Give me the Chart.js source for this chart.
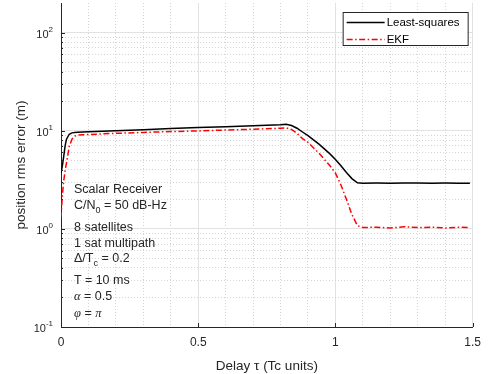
<!DOCTYPE html>
<html>
<head>
<meta charset="utf-8">
<script src="https://cdn.jsdelivr.net/npm/chart.js@4.4.1/dist/chart.umd.min.js"></script>
<style>
  html, body { margin: 0; padding: 0; background: #fff; }
  #wrap { position: relative; width: 489px; height: 374px; }
  #notes { position: absolute; left: 74px; top: 0; font: 12.5px "Liberation Sans", Arial, sans-serif; color: #262626; }
  #notes div { position: absolute; left: 0; white-space: nowrap; line-height: 14px; }
  #notes sub { font-size: 9px; vertical-align: -4px; line-height: 0; }
  .gk { font-family: "Liberation Serif", serif; font-style: italic; }
</style>
</head>
<body>
<div id="wrap">
  <canvas id="myChart" width="489" height="374"></canvas>
  <div id="notes">
    <div style="top:182px">Scalar Receiver</div>
    <div style="top:198px">C/N<sub>0</sub> = 50 dB-Hz</div>
    <div style="top:220px">8 satellites</div>
    <div style="top:236px">1 sat multipath</div>
    <div style="top:251px">&Delta;/T<sub>c</sub> = 0.2</div>
    <div style="top:273px">T = 10 ms</div>
    <div style="top:289px"><span class="gk">&alpha;</span> = 0.5</div>
    <div style="top:306px"><span class="gk">&phi;</span> = <span class="gk">&pi;</span></div>
  </div>
</div>
<script>
// delay in chip units, rms error in metres
var delay = [0, 0.005, 0.01, 0.015, 0.02, 0.03, 0.04, 0.05, 0.06, 0.08, 0.1,
             0.2, 0.3, 0.4, 0.5, 0.6, 0.7, 0.8, 0.82, 0.84, 0.86, 0.88, 0.9, 0.94, 0.98,
             1.0, 1.02, 1.04, 1.06, 1.08, 1.1, 1.15, 1.2, 1.25, 1.3, 1.35, 1.4, 1.45, 1.49];
var leastSquares = [3.7, 4.4, 5.5, 7.0, 8.2, 9.2, 9.5, 9.6, 9.65, 9.7, 9.75,
                    10.0, 10.25, 10.5, 10.75, 11.0, 11.2, 11.5, 11.6, 11.3, 10.6, 9.7, 8.9, 7.3, 5.8,
                    5.1, 4.4, 3.75, 3.25, 2.95, 2.92, 2.93, 2.92, 2.94, 2.93, 2.92, 2.93, 2.92, 2.92];
var ekf = [1.3, 2.2, 3.1, 3.9, 4.7, 6.9, 8.2, 8.8, 9.0, 9.1, 9.15,
           9.4, 9.6, 9.8, 9.95, 10.15, 10.35, 10.6, 10.7, 10.3, 9.4, 8.3, 7.6, 5.9, 4.4,
           3.7, 2.8, 2.0, 1.4, 1.08, 1.03, 1.04, 1.02, 1.05, 1.03, 1.04, 1.02, 1.04, 1.03];
var xTickLabels = ['0', '0.5', '1', '1.5'];
var yDecades = [-1, 0, 1, 2];

var FONT = '"Liberation Sans", Arial, sans-serif';
var TXT = '#262626';
Chart.defaults.font.family = FONT;
Chart.defaults.color = TXT;

function gridDash(c) {
    return (c.tick && !c.tick.major) ? [1, 2] : [];
}
function gridColor(c) {
    return (c.tick && !c.tick.major) ? '#d4d4d4' : '#e2e2e2';
}

// MATLAB-ish extras: inward ticks, 10^n labels, boxed legend
var extras = {
    id: 'extras',
    afterDraw: function(chart) {
        var ctx = chart.ctx, a = chart.chartArea, x = chart.scales.x, y = chart.scales.y;
        ctx.save();
        ctx.strokeStyle = TXT;
        ctx.lineWidth = 1;
        y.ticks.forEach(function(t) {
            var py = Math.round(y.getPixelForValue(t.value)) + 0.5;
            ctx.beginPath();
            ctx.moveTo(a.left, py);
            ctx.lineTo(a.left + (t.major ? 4 : 2), py);
            ctx.stroke();
        });
        x.ticks.forEach(function(t) {
            if (!t.major) return;
            var px = Math.round(x.getPixelForValue(t.value)) + 0.5;
            ctx.beginPath();
            ctx.moveTo(px, a.bottom);
            ctx.lineTo(px, a.bottom - 4);
            ctx.stroke();
        });

        ctx.fillStyle = TXT;
        ctx.textBaseline = 'middle';
        yDecades.forEach(function(n) {
            var py = y.getPixelForValue(Math.pow(10, n));
            var exp = String(n);
            var right = a.left - 8;
            ctx.font = '8px ' + FONT;
            var ew = ctx.measureText(exp).width;
            ctx.textAlign = 'left';
            ctx.fillText(exp, right - ew, py - 3);
            ctx.font = '11px ' + FONT;
            ctx.textAlign = 'right';
            ctx.fillText('10', right - ew, py + 2);
        });

        // legend box
        var bx = a.right - 130, by = a.top + 9, bw = 125, bh = 33;
        ctx.fillStyle = '#fff';
        ctx.fillRect(bx, by, bw, bh);
        ctx.strokeStyle = TXT;
        ctx.strokeRect(bx + 0.5, by + 0.5, bw, bh);
        chart.data.datasets.forEach(function(ds, i) {
            var ly = Math.round(by + 10 + i * 16.5) + 0.5;
            ctx.save();
            ctx.strokeStyle = ds.borderColor;
            ctx.lineWidth = ds.borderWidth;
            ctx.setLineDash(ds.borderDash || []);
            ctx.beginPath();
            ctx.moveTo(bx + 4, ly);
            ctx.lineTo(bx + 42, ly);
            ctx.stroke();
            ctx.restore();
            ctx.fillStyle = '#000';
            ctx.font = '11.5px ' + FONT;
            ctx.textAlign = 'left';
            ctx.fillText(ds.label, bx + 44, ly);
        });
        ctx.restore();
    }
};

var ctx = document.getElementById('myChart').getContext('2d');
var myChart = new Chart(ctx, {
    type: 'line',
    data: {
        datasets: [{
            label: 'Least-squares',
            borderColor: '#000000',
            borderWidth: 1.5,
            data: delay.map(function(d, i) { return {x: d, y: leastSquares[i]}; })
        }, {
            label: 'EKF',
            borderColor: '#ff0000',
            borderWidth: 1.5,
            borderDash: [6, 2.5, 1.5, 2.5],
            data: delay.map(function(d, i) { return {x: d, y: ekf[i]}; })
        }]
    },
    options: {
        responsive: false,
        devicePixelRatio: 1,
        animation: false,
        layout: { padding: { left: 0, top: 3, right: 16, bottom: 0 } },
        plugins: {
            legend: { display: false },
            tooltip: { enabled: false }
        },
        elements: {
            line: { tension: 0 },
            point: { radius: 0 }
        },
        scales: {
            x: {
                type: 'linear',
                min: 0,
                max: 1.5,
                afterBuildTicks: function(s) {
                    var t = [];
                    for (var i = 0; i <= 15; i++) t.push({value: i / 10, major: i % 5 === 0});
                    s.ticks = t;
                },
                afterFit: function(s) { s.height = 47; },
                ticks: {
                    autoSkip: false,
                    maxRotation: 0,
                    padding: 8,
                    font: { size: 12 },
                    color: TXT,
                    callback: function(v, i) { return i % 5 === 0 ? xTickLabels[i / 5] : ''; }
                },
                grid: { color: gridColor, lineWidth: 1, drawTicks: false },
                border: { color: TXT, width: 1, dash: gridDash },
                title: {
                    display: true,
                    text: 'Delay τ (Tc units)',
                    font: { size: 13.5 },
                    color: TXT,
                    padding: { top: 0, bottom: 0 }
                }
            },
            y: {
                type: 'logarithmic',
                min: 0.1,
                max: 200,
                afterBuildTicks: function(s) {
                    var t = [];
                    yDecades.forEach(function(n) {
                        for (var m = 1; m <= 9; m++) {
                            var v = m * Math.pow(10, n);
                            if (v <= 100.0001) t.push({value: v, major: m === 1});
                        }
                    });
                    s.ticks = t;
                },
                afterFit: function(s) { s.width = 61; },
                ticks: { display: false },
                grid: { color: gridColor, lineWidth: 1, drawTicks: false },
                border: { color: TXT, width: 1, dash: gridDash },
                title: {
                    display: true,
                    text: 'position rms error (m)',
                    font: { size: 13.5 },
                    color: TXT,
                    padding: { top: 13, bottom: 0 }
                }
            }
        }
    },
    plugins: [extras]
});
</script>
</body>
</html>
